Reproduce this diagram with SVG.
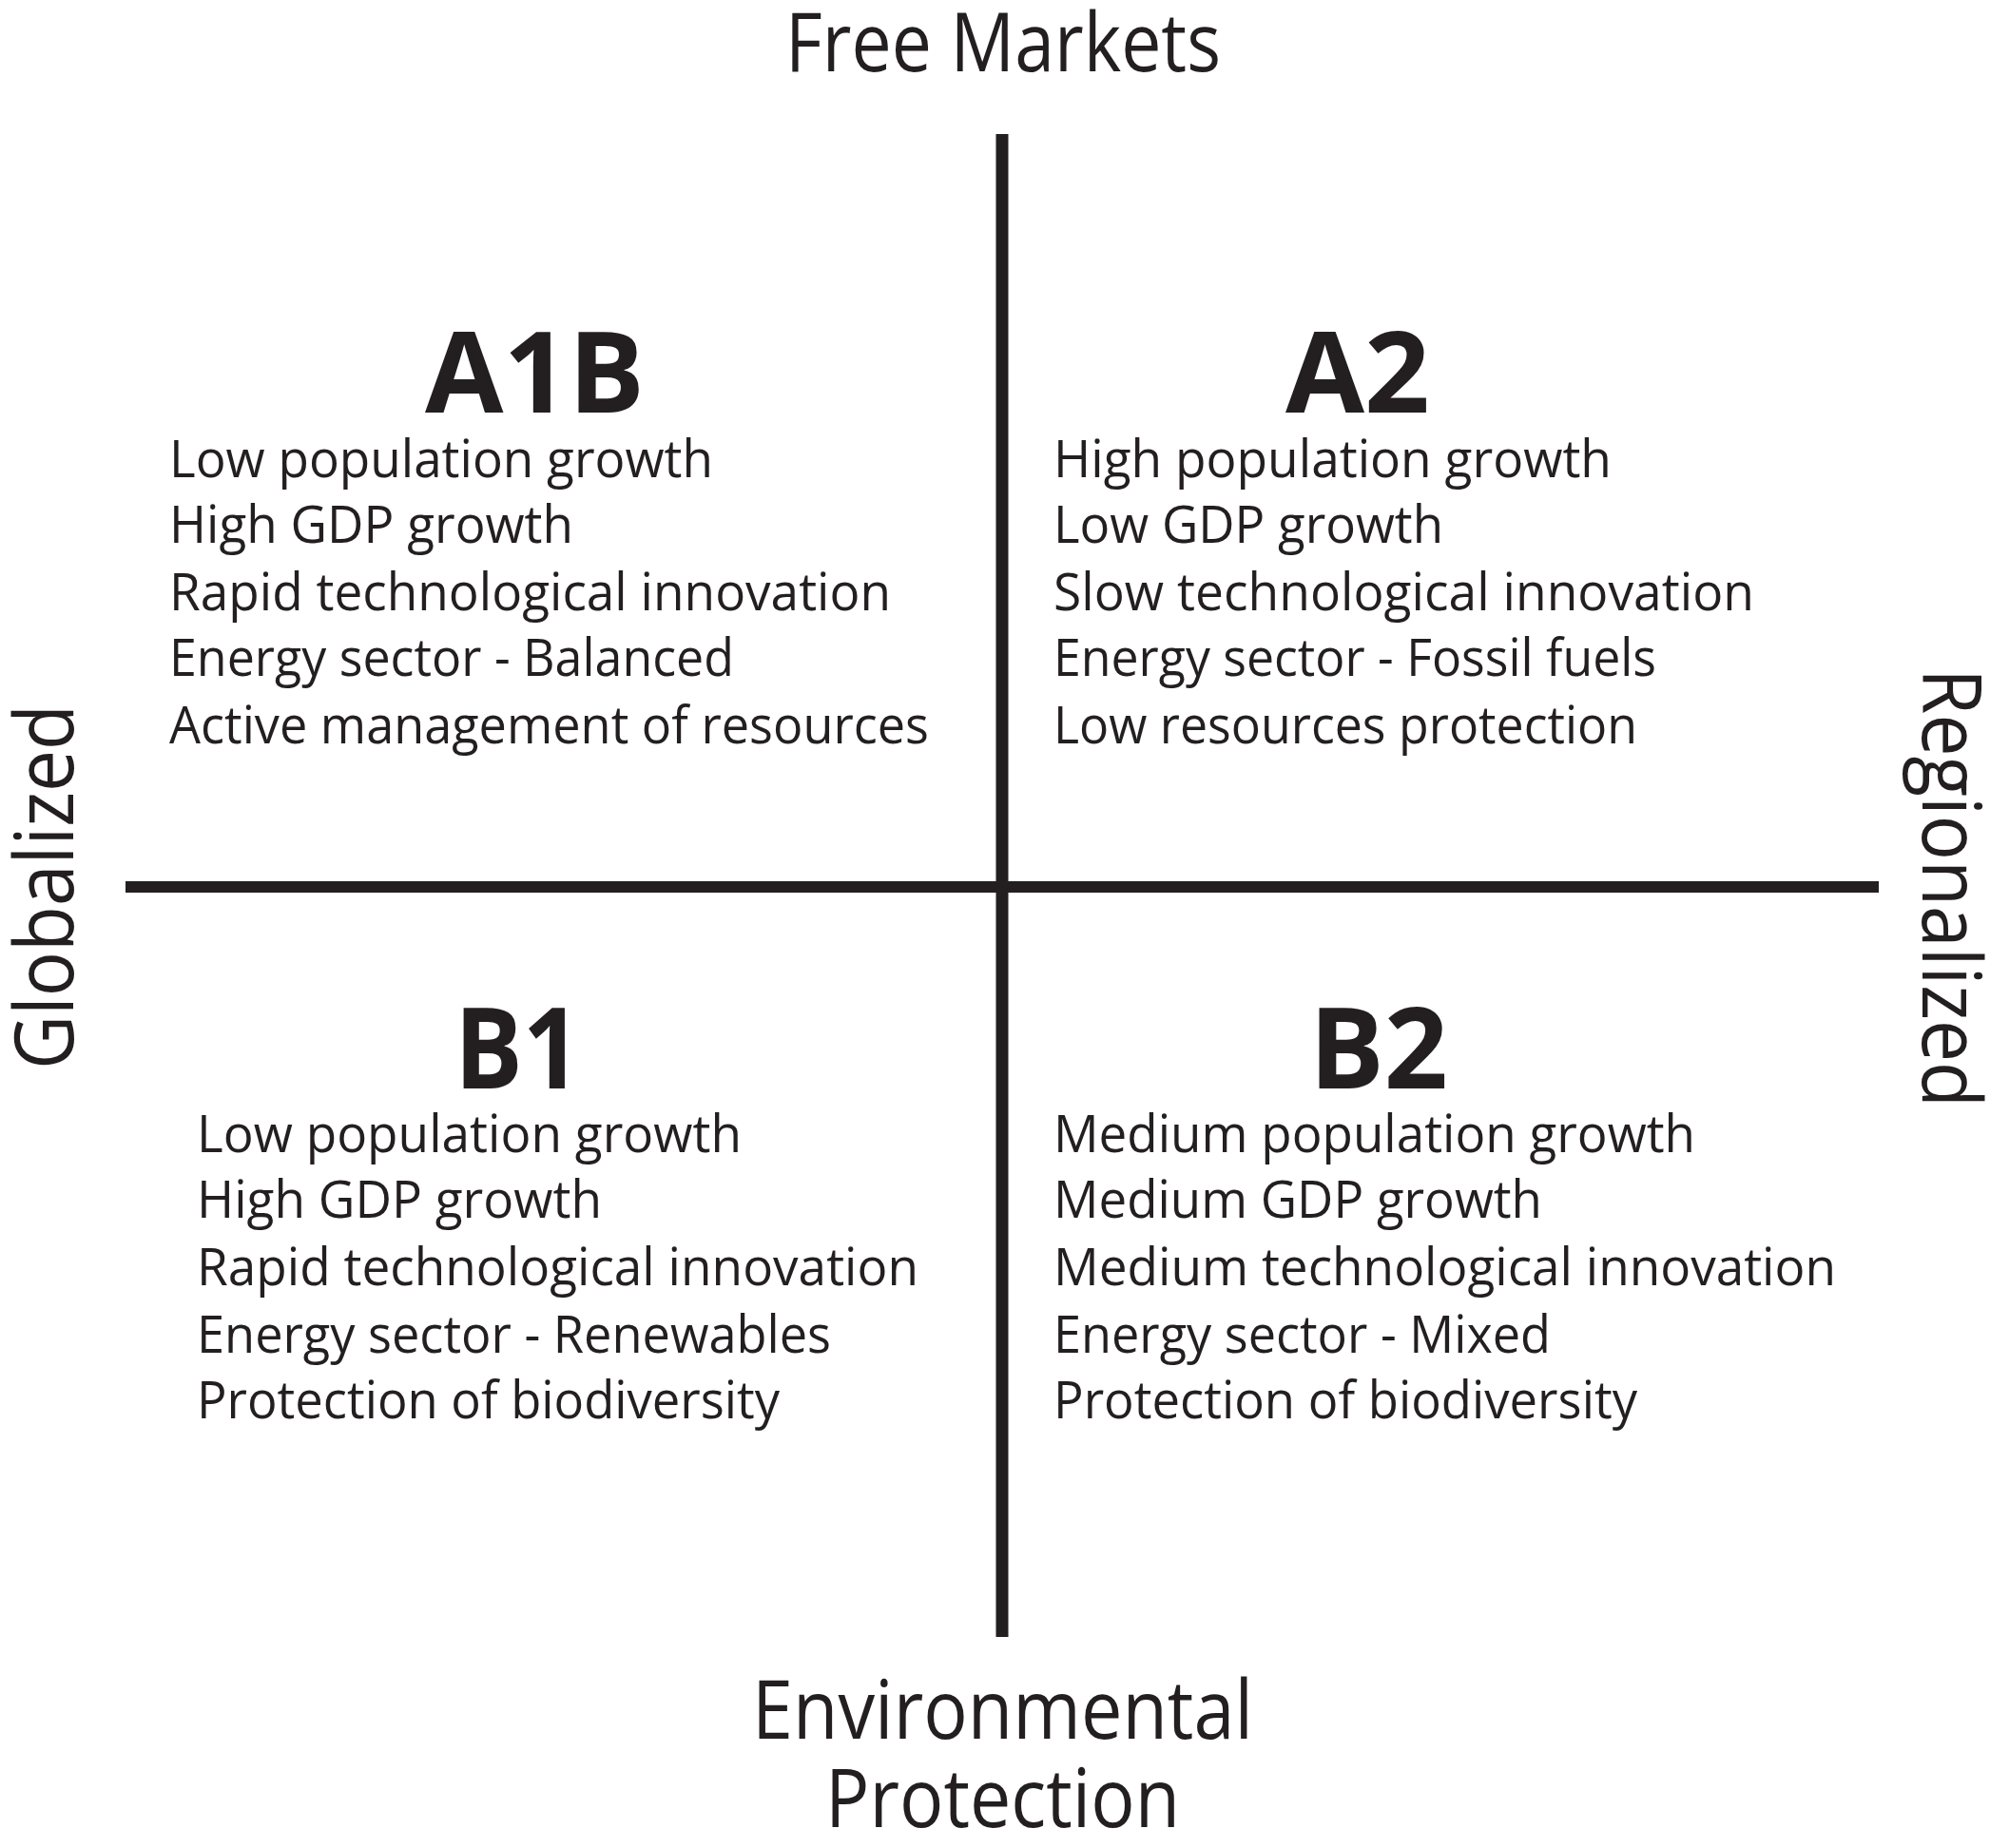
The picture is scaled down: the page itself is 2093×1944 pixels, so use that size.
<svg xmlns="http://www.w3.org/2000/svg" width="2093" height="1944" viewBox="0 0 2093 1944">
<style>
.ax{font-family:"Open Sans","Liberation Sans",sans-serif;font-size:86px;fill:#231f20}
.hd{font-family:"Open Sans","Liberation Sans",sans-serif;font-size:118px;font-weight:700;fill:#231f20}
.it{font-family:"Open Sans","Liberation Sans",sans-serif;font-size:54px;fill:#231f20}
.ln{stroke:#231f20;fill:none}
</style>
<rect width="2093" height="1944" fill="#ffffff"/>
<g id="connectors">
<line class="ln" x1="132" y1="933" x2="1976" y2="933" stroke-width="12"/>
<line class="ln" x1="1054" y1="141" x2="1054" y2="1722" stroke-width="13"/>
</g>
<g id="axis-top"><text class="ax" x="826" y="75" textLength="458" lengthAdjust="spacingAndGlyphs">Free Markets</text></g>
<g id="axis-bottom">
<text class="ax" x="791" y="1829" textLength="527" lengthAdjust="spacingAndGlyphs">Environmental</text>
<text class="ax" x="868" y="1922" textLength="373" lengthAdjust="spacingAndGlyphs">Protection</text>
</g>
<g id="axis-left"><text class="ax" transform="translate(77,1125) rotate(-90)" x="0" y="0" textLength="384" lengthAdjust="spacingAndGlyphs">Globalized</text></g>
<g id="axis-right"><text class="ax" transform="translate(2022,703) rotate(90)" x="0" y="0" textLength="462" lengthAdjust="spacingAndGlyphs">Regionalized</text></g>
<g id="A1B">
<text class="hd" x="447" y="434" textLength="231" lengthAdjust="spacingAndGlyphs">A1B</text>
<text class="it" x="178" y="502" textLength="572" lengthAdjust="spacingAndGlyphs">Low population growth</text>
<text class="it" x="178" y="571" textLength="425" lengthAdjust="spacingAndGlyphs">High GDP growth</text>
<text class="it" x="178" y="642" textLength="759" lengthAdjust="spacingAndGlyphs">Rapid technological innovation</text>
<text class="it" x="178" y="711" textLength="594" lengthAdjust="spacingAndGlyphs">Energy sector - Balanced</text>
<text class="it" x="178" y="782" textLength="799" lengthAdjust="spacingAndGlyphs">Active management of resources</text>
</g>
<g id="A2">
<text class="hd" x="1352" y="434" textLength="152" lengthAdjust="spacingAndGlyphs">A2</text>
<text class="it" x="1108" y="502" textLength="587" lengthAdjust="spacingAndGlyphs">High population growth</text>
<text class="it" x="1108" y="571" textLength="410" lengthAdjust="spacingAndGlyphs">Low GDP growth</text>
<text class="it" x="1108" y="642" textLength="737" lengthAdjust="spacingAndGlyphs">Slow technological innovation</text>
<text class="it" x="1108" y="711" textLength="634" lengthAdjust="spacingAndGlyphs">Energy sector - Fossil fuels</text>
<text class="it" x="1108" y="782" textLength="614" lengthAdjust="spacingAndGlyphs">Low resources protection</text>
</g>
<g id="B1">
<text class="hd" x="478" y="1145" textLength="133" lengthAdjust="spacingAndGlyphs">B1</text>
<text class="it" x="207" y="1212" textLength="573" lengthAdjust="spacingAndGlyphs">Low population growth</text>
<text class="it" x="207" y="1281" textLength="426" lengthAdjust="spacingAndGlyphs">High GDP growth</text>
<text class="it" x="207" y="1352" textLength="759" lengthAdjust="spacingAndGlyphs">Rapid technological innovation</text>
<text class="it" x="207" y="1423" textLength="667" lengthAdjust="spacingAndGlyphs">Energy sector - Renewables</text>
<text class="it" x="207" y="1492" textLength="613" lengthAdjust="spacingAndGlyphs">Protection of biodiversity</text>
</g>
<g id="B2">
<text class="hd" x="1377" y="1145" textLength="146" lengthAdjust="spacingAndGlyphs">B2</text>
<text class="it" x="1108" y="1212" textLength="675" lengthAdjust="spacingAndGlyphs">Medium population growth</text>
<text class="it" x="1108" y="1281" textLength="514" lengthAdjust="spacingAndGlyphs">Medium GDP growth</text>
<text class="it" x="1108" y="1352" textLength="823" lengthAdjust="spacingAndGlyphs">Medium technological innovation</text>
<text class="it" x="1108" y="1423" textLength="523" lengthAdjust="spacingAndGlyphs">Energy sector - Mixed</text>
<text class="it" x="1108" y="1492" textLength="614" lengthAdjust="spacingAndGlyphs">Protection of biodiversity</text>
</g>
</svg>
